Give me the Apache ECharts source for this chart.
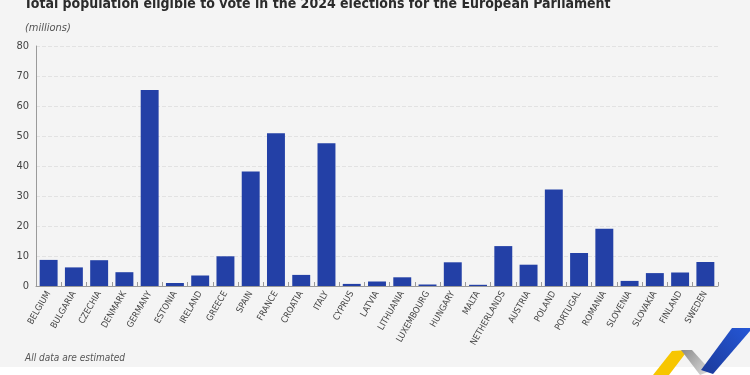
<!DOCTYPE html>
<html>
<head>
<meta charset="utf-8">
<script src="https://cdn.jsdelivr.net/npm/echarts@6/dist/echarts.min.js"></script>
<style>
  html, body { margin: 0; padding: 0; background: #fff; }
  #main { width: 750px; height: 375px; }
</style>
</head>
<body>
<div id="main"></div>
<script>
var countries = ['BELGIUM', 'BULGARIA', 'CZECHIA', 'DENMARK', 'GERMANY', 'ESTONIA', 'IRELAND', 'GREECE',
    'SPAIN', 'FRANCE', 'CROATIA', 'ITALY', 'CYPRUS', 'LATVIA', 'LITHUANIA', 'LUXEMBOURG', 'HUNGARY',
    'MALTA', 'NETHERLANDS', 'AUSTRIA', 'POLAND', 'PORTUGAL', 'ROMANIA', 'SLOVENIA', 'SLOVAKIA',
    'FINLAND', 'SWEDEN'];
var voters = [8.7, 6.2, 8.6, 4.6, 65.3, 1.0, 3.5, 9.9,
    38.2, 50.9, 3.7, 47.6, 0.7, 1.5, 2.9, 0.5, 7.9,
    0.4, 13.3, 7.1, 32.2, 11.0, 19.1, 1.7, 4.3,
    4.5, 8.0];

var myChart = echarts.init(document.getElementById('main'));

// condensed look, falls back to normal sans
var font = '"DejaVu Sans Condensed", "Liberation Sans Narrow", "Roboto Condensed", sans-serif';

var option = {
    backgroundColor: '#fff',
    animation: false,
    textStyle: { fontFamily: font },
    title: [
        {
            text: 'Total population eligible to vote in the 2024 elections for the European Parliament',
            left: 19,
            top: -8,
            textStyle: { fontFamily: font, fontSize: 14, fontWeight: 'bold', color: '#2b2b2b' }
        },
        {
            text: '(millions)',
            left: 20,
            top: 18,
            textStyle: { fontFamily: font, fontSize: 11, fontStyle: 'italic', fontWeight: 'normal', color: '#555' }
        },
        {
            text: 'All data are estimated',
            left: 20,
            top: 348,
            textStyle: { fontFamily: font, fontSize: 10, fontStyle: 'italic', fontWeight: 'normal', color: '#555' }
        }
    ],
    graphic: [
        { type: 'rect', z: -10, shape: { x: 0, y: 0, width: 750, height: 367 }, style: { fill: '#f4f4f4' } },
        { type: 'polygon', z: 10, shape: { points: [[653, 375], [672, 351], [688, 350], [669, 375]] }, style: { fill: '#f7c600' } },
        {
            type: 'polygon', z: 10,
            shape: { points: [[681, 350], [692, 350], [711, 371], [700, 375]] },
            style: {
                fill: new echarts.graphic.LinearGradient(0, 0, 1, 1, [
                    { offset: 0, color: '#8a8a8a' }, { offset: 1, color: '#e0e0e0' }
                ])
            }
        },
        {
            type: 'polygon', z: 10,
            shape: { points: [[701, 370], [732, 328], [750, 328], [750, 331], [713, 374]] },
            style: {
                fill: new echarts.graphic.LinearGradient(0, 1, 1, 0, [
                    { offset: 0, color: '#1b3a9a' }, { offset: 1, color: '#2557d6' }
                ])
            }
        }
    ],
    grid: { left: 36, right: 32, top: 46, bottom: 89 },
    xAxis: {
        type: 'category',
        data: countries,
        axisLine: { lineStyle: { color: '#9a9a9a', width: 1 } },
        axisTick: { show: true, inside: true, length: 4, lineStyle: { color: '#9a9a9a' } },
        axisLabel: {
            interval: 0,
            rotate: 60,
            fontSize: 9,
            color: '#444',
            margin: 6,
            fontFamily: font
        }
    },
    yAxis: {
        type: 'value',
        min: 0,
        max: 80,
        interval: 10,
        axisLine: { show: true, lineStyle: { color: '#9a9a9a' } },
        axisTick: { show: false },
        axisLabel: { fontSize: 11, color: '#444', margin: 7, fontFamily: font },
        splitLine: { lineStyle: { color: '#e2e2e2', type: 'dashed' } }
    },
    series: [
        {
            name: 'Eligible voters',
            type: 'bar',
            data: voters,
            barCategoryGap: '29%',
            itemStyle: { color: '#2340a6' }
        }
    ]
};

myChart.setOption(option);
</script>
</body>
</html>
